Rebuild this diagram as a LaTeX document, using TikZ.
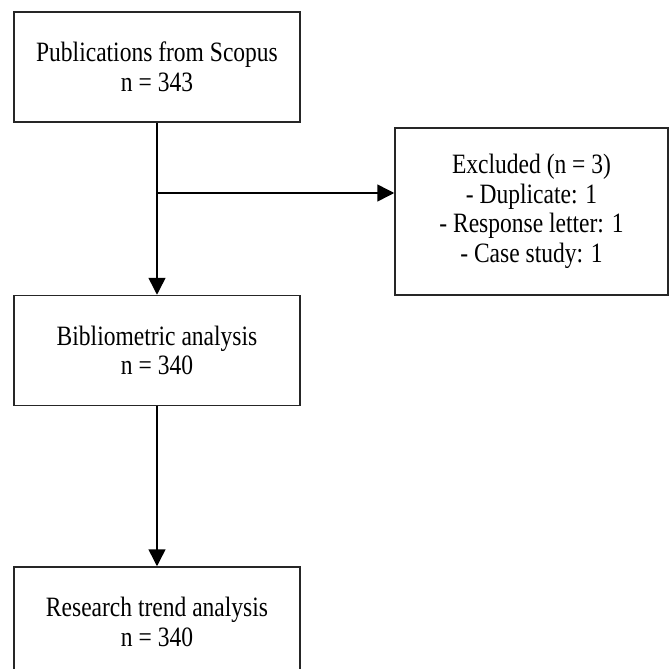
\documentclass[tikz,border=0pt]{standalone}
\usepackage{fontspec}
\setmainfont[FakeStretch=0.84]{Liberation Serif}
\usetikzlibrary{shapes, arrows.meta, positioning}
\tikzstyle{caja} = [draw=black!85, line width=1.5pt, rectangle, align=center, minimum width=286pt, minimum height=110pt, inner sep=0pt, font=\fontsize{28}{29.5}\selectfont]
\tikzstyle{flecha} = [line width=1.5pt, -{Triangle[length=17pt,width=17pt]}]

\begin{document}
\begin{tikzpicture}[x=1pt,y=-1pt]
	\useasboundingbox (0,0) rectangle (670,669);
	\node [caja] (scopus) at (157,67) {Publications from Scopus\\n = 343};
	\node [caja, below=172pt of scopus] (biblio) {Bibliometric analysis\\n = 340};
	\node [caja, below=160pt of biblio] (tendencia) {Research trend analysis\\n = 340};
	\node [caja, minimum width=273pt, minimum height=167pt] (excluidos) at (531.5,211.5) {%
		Excluded (n = 3)\\- Duplicate: 1\\- Response letter: 1\\- Case study: 1};
	% flechas
	\coordinate (rama) at (157,193);
	\draw[flecha] (scopus) -- (biblio);
	\draw[flecha] (rama) -- (rama -| excluidos.west);
	\draw[flecha] (biblio) -- (tendencia);
\end{tikzpicture}
\end{document}
